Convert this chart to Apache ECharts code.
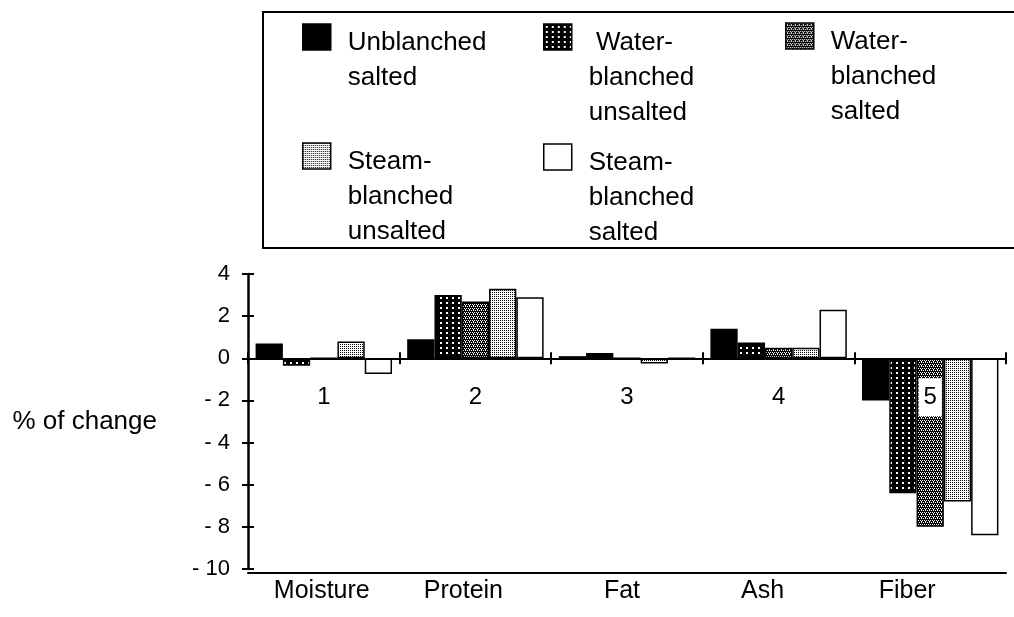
<!DOCTYPE html>
<html>
<head>
<meta charset="utf-8">
<script src="https://cdn.jsdelivr.net/npm/echarts@6/dist/echarts.min.js"></script>
<style>
  html, body { margin: 0; padding: 0; background: #fff; }
  #chart { width: 1014px; height: 617px; }
</style>
</head>
<body>
<div id="chart"></div>
<script>
const categories = ['Moisture', 'Protein', 'Fat', 'Ash', 'Fiber']
const groupNumbers = ['1', '2', '3', '4', '5']
const seriesNames = [
  'Unblanched\nsalted',
  ' Water-\nblanched\nunsalted',
  'Water-\nblanched\nsalted',
  'Steam-\nblanched\nunsalted',
  'Steam-\nblanched\nsalted'
]

// % of change per treatment, in category order
const unblanchedSalted = [0.7, 0.9, 0.1, 1.4, -2.0]
const waterUnsalted = [-0.35, 3.0, 0.25, 0.75, -6.4]
const waterSalted = [0, 2.7, 0, 0.5, -8.0]
const steamUnsalted = [0.8, 3.3, -0.25, 0.5, -6.8]
const steamSalted = [-0.75, 2.9, 0, 2.3, -8.4]

const yMin = -10
const yMax = 4
const yStep = 2

const FONT = '"Liberation Sans", Arial, Helvetica, sans-serif'

// small canvas fills that imitate the print hatching
function pattern(w, h, bg, fg, cells) {
  const c = document.createElement('canvas')
  c.width = w
  c.height = h
  const ctx = c.getContext('2d')
  ctx.fillStyle = bg
  ctx.fillRect(0, 0, w, h)
  ctx.fillStyle = fg
  cells.forEach(([x, y, cw, ch]) => ctx.fillRect(x, y, cw, ch))
  return { image: c, repeat: 'repeat' }
}

const fills = [
  '#000',
  pattern(6, 5, '#000', '#fff', [[2, 2, 2, 2]]),
  pattern(4, 4, '#000', '#fff', [[0, 0, 1, 1], [2, 0, 1, 1], [1, 2, 1, 1], [3, 2, 1, 1], [1, 1, 1, 1]]),
  pattern(2, 2, '#fff', '#000', [[0, 0, 1, 1]]),
  '#fff'
]
const values = [unblanchedSalted, waterUnsalted, waterSalted, steamUnsalted, steamSalted]

// legend item spots: icon left / icon top
const legendSpots = [[302, 24], [543, 24], [785, 23], [302, 143], [543, 144]]
const lineH = 35
const textDrop = 6
const iconW = 28
const iconH = 26

// bottom name labels sit a little left of centre in the original
const nameShift = [4, 24, 10, 32, 46]

const gridTop = 274
const gridBottom = 48
const gridH = 617 - gridTop - gridBottom

const chart = echarts.init(document.getElementById('chart'))

// legend text is centred on the icon, so pad with blank lines above
// (the first blank line is a bit taller to drop the text below the icon centre)
const legends = seriesNames.map((name, i) => {
  const n = name.split('\n').length
  const blockH = (2 * n - 1) * lineH + 2 * textDrop
  return {
    data: [name],
    left: legendSpots[i][0],
    top: legendSpots[i][1] + iconH / 2 - blockH / 2,
    padding: 0,
    itemWidth: iconW,
    itemHeight: iconH,
    icon: 'rect',
    selectedMode: false,
    formatter: (nm) => '{g| }\n' + '\n'.repeat(n - 2) + nm,
    itemStyle: { borderColor: '#000', borderWidth: 1.5 },
    textStyle: {
      fontFamily: FONT,
      fontSize: 26,
      lineHeight: lineH,
      color: '#000',
      padding: [0, 0, 0, 12],
      rich: { g: { fontSize: 26, lineHeight: lineH + 2 * textDrop } }
    }
  }
})

const rich = {}
nameShift.forEach((p, i) => { rich['s' + i] = { padding: [0, p, 0, 0], fontSize: 25, fontFamily: FONT, color: '#000' } })

const hiddenCategory = {
  type: 'category',
  data: categories,
  axisLine: { show: false },
  axisTick: { show: false },
  axisLabel: { show: false },
  splitLine: { show: false }
}

chart.setOption({
  animation: false,
  backgroundColor: '#fff',
  legend: legends,
  graphic: [{
    type: 'rect',
    shape: { x: 263, y: 12, width: 800, height: 236 },
    style: { fill: 'none', stroke: '#000', lineWidth: 2 }
  }],
  grid: { left: 248, right: 8, top: gridTop, bottom: gridBottom, outerBoundsMode: 'none' },
  xAxis: [
    {
      type: 'category',
      data: categories,
      position: 'bottom',
      z: 5,
      axisLine: { onZero: true, onZeroAxisIndex: 0, lineStyle: { color: '#000', width: 2 } },
      axisTick: { show: true, interval: 0, length: 6, lineStyle: { color: '#000', width: 2 } },
      axisLabel: { show: false },
      splitLine: { show: false }
    },
    {
      type: 'category',
      data: categories,
      position: 'top',
      axisLine: { show: false, onZero: true, onZeroAxisIndex: 1 },
      axisTick: { show: true, interval: 0, length: 6, lineStyle: { color: '#000', width: 2 } },
      axisLabel: { show: false },
      splitLine: { show: false }
    },
    {
      type: 'category',
      data: categories,
      position: 'bottom',
      offset: 4,
      axisLine: { onZero: false, lineStyle: { color: '#000', width: 2 } },
      axisTick: { show: false },
      axisLabel: {
        interval: 0,
        margin: 6,
        formatter: (v, i) => '{s' + i + '|' + v + '}',
        rich: rich,
        fontFamily: FONT,
        fontSize: 25,
        color: '#000'
      },
      splitLine: { show: false }
    },
    // group numbers just under the zero line
    Object.assign({}, hiddenCategory, {
      position: 'bottom',
      z: 6,
      offset: -gridH * (0 - yMin) / (yMax - yMin),
      axisLine: { show: false, onZero: false },
      axisLabel: {
        show: true,
        interval: 0,
        margin: 20,
        formatter: (v, i) => groupNumbers[i],
        fontFamily: FONT,
        fontSize: 24,
        color: '#000',
        backgroundColor: '#fff',
        padding: [7, 5]
      }
    })
  ],
  yAxis: [
    {
      type: 'value',
      position: 'left',
      min: yMin,
      max: yMax,
      interval: yStep,
      name: '% of change',
      nameLocation: 'middle',
      nameRotate: 0,
      nameGap: 91,
      nameTextStyle: { fontFamily: FONT, fontSize: 26, color: '#000' },
      axisLine: { show: true, lineStyle: { color: '#000', width: 2.5 } },
      axisTick: { show: true, length: 6, lineStyle: { color: '#000', width: 2 } },
      axisLabel: {
        margin: 18,
        fontFamily: FONT,
        fontSize: 22,
        color: '#000',
        formatter: (v) => (v < 0 ? '- ' + (-v) : String(v))
      },
      splitLine: { show: false }
    },
    {
      type: 'value',
      position: 'left',
      min: yMin,
      max: yMax,
      interval: yStep,
      axisLine: { show: false },
      axisTick: { show: true, inside: true, length: 6, lineStyle: { color: '#000', width: 2 } },
      axisLabel: { show: false },
      splitLine: { show: false }
    }
  ],
  series: seriesNames.map((name, i) => ({
    name: name,
    type: 'bar',
    xAxisIndex: 0,
    yAxisIndex: 0,
    data: values[i],
    barGap: '0%',
    barCategoryGap: '10%',
    itemStyle: { color: fills[i], borderColor: '#000', borderWidth: 1.5 },
    z: 2
  }))
})
</script>
</body>
</html>
